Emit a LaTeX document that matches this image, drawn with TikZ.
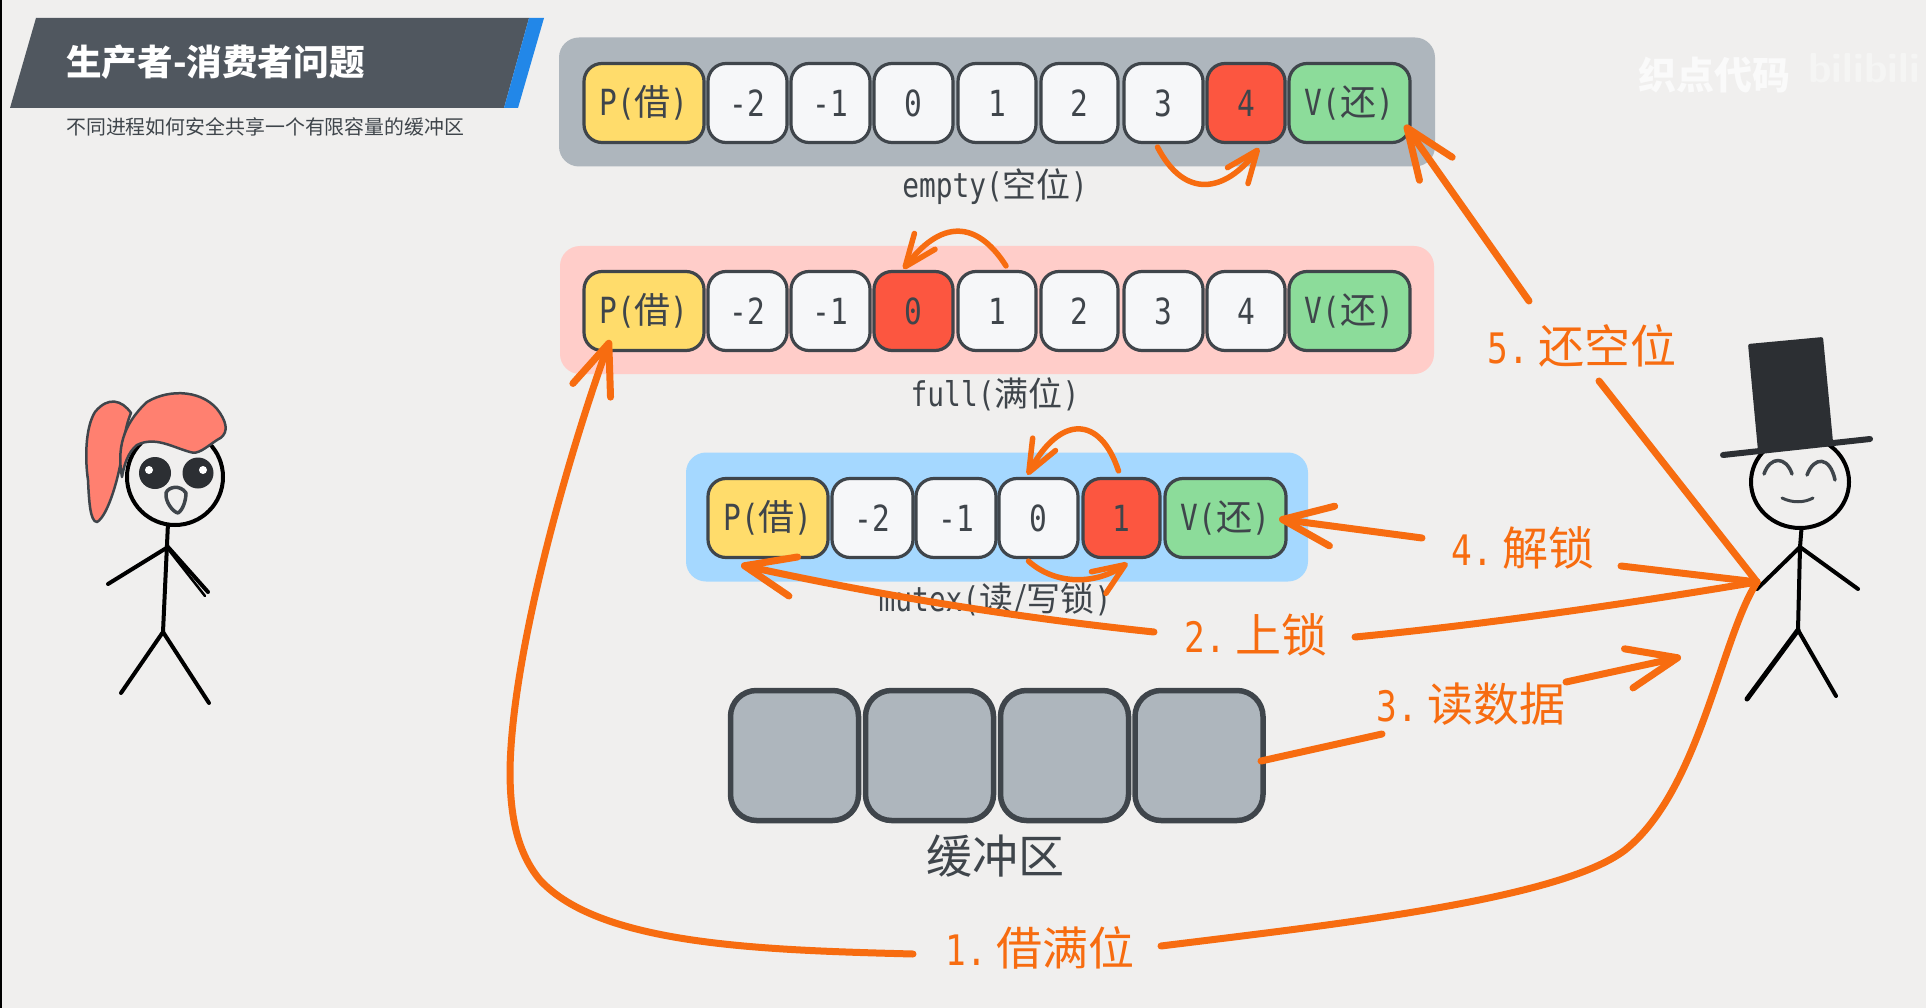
\documentclass[tikz,border=0pt]{standalone}
\usepackage{fontspec}
\usetikzlibrary{arrows.meta,calc}
\newfontfamily\cjkf{Noto Sans CJK SC}
\newfontfamily\handf[FakeStretch=0.82]{DejaVu Sans Mono}
\newcommand{\jie}{P({\cjkf 借})}
\newcommand{\huan}{V({\cjkf 还})}
\newcommand{\stepnum}[2]{#1.\hspace{9pt}{\cjkf\fontsize{46}{46}\selectfont #2}}
\definecolor{paper}{HTML}{F0EFEE}
\definecolor{banner}{HTML}{50575F}
\definecolor{bannerblue}{HTML}{2287E8}
\definecolor{ink}{HTML}{3F454B}
\definecolor{hot}{HTML}{F76C10}
\definecolor{slotwhite}{HTML}{F6F7F9}
\definecolor{slotred}{HTML}{FC5640}
\definecolor{slotyellow}{HTML}{FFDC6B}
\definecolor{slotgreen}{HTML}{8CDC9A}
\definecolor{rowgray}{HTML}{AEB6BD}
\definecolor{rowpink}{HTML}{FFCDC9}
\definecolor{rowblue}{HTML}{A5D8FF}
\definecolor{hair}{HTML}{FF8070}
\definecolor{hatc}{HTML}{2C2F33}
\tikzset{
  slot/.style={draw=ink,line width=3.2pt,rounded corners=18pt,inner sep=0pt,
    minimum height=79pt,font=\handf\fontsize{36}{36}\selectfont,text=ink},
  band/.style={rounded corners=20pt,inner sep=0pt},
  caption/.style={font=\handf\fontsize{34}{34}\selectfont,text=ink,inner sep=0pt},
  steplabel/.style={font=\handf\fontsize{42}{42}\selectfont,text=hot,inner sep=0pt},
  bigflow/.style={draw=hot,line width=7pt,line cap=round,
    -{Straight Barb[length=50pt,width=40pt,line width=7pt,round]}},
  flowtail/.style={draw=hot,line width=7pt,line cap=round},
  smallflow/.style={draw=hot,line width=5.5pt,line cap=round,
    -{Straight Barb[length=32pt,width=26pt,line width=5.5pt,round]}},
  limb/.style={draw=black,line width=4pt,line cap=round,line join=round},
  facepen/.style={draw=ink,line width=3.5pt,line cap=round,line join=round},
  bufslot/.style={draw=ink,fill=rowgray,line width=5.5pt,rounded corners=26pt,
    minimum width=128pt,minimum height=130pt,inner sep=0pt},
}
\begin{document}
\begin{tikzpicture}[x=1pt,y=-1pt]
\useasboundingbox (0,0) rectangle (1926,1008);
\fill[paper] (0,0) rectangle (1926,1008);
\fill[black] (0,0) rectangle (2,1008);

% title banner
\fill[banner] (36,18) -- (529,18) -- (504,108) -- (10,108) -- cycle;
\fill[bannerblue] (529,18) -- (544,18) -- (518,108) -- (504,108) -- cycle;
\node[anchor=west,inner sep=0pt,text=white,font=\cjkf\bfseries\fontsize{35.6}{36}\selectfont] (title) at (66,62) {生产者-消费者问题};
\node[anchor=west,inner sep=0pt,text=ink,font=\cjkf\fontsize{19.9}{20}\selectfont] (subtitle) at (66,127) {不同进程如何安全共享一个有限容量的缓冲区};

% watermark
\node[anchor=west,inner sep=0pt,text=white!70!paper,font=\cjkf\bfseries\fontsize{38}{38}\selectfont] (mark) at (1638,75) {织点代码};
\node[anchor=west,inner sep=0pt,text=white!35!paper,font=\sffamily\bfseries\fontsize{42}{42}\selectfont] (logo) at (1808,68) {bilibili};

% semaphore bands
\node[band,fill=rowgray,minimum width=876pt,minimum height=129pt] (bandE) at (997,102) {};
\node[band,fill=rowpink,minimum width=874pt,minimum height=128pt] (bandF) at (997,310) {};
\node[band,fill=rowblue,minimum width=622pt,minimum height=129pt] (bandM) at (997,517) {};

% empty row
\foreach \nm/\cx/\cw/\col/\txt in {
  P/644/120/slotyellow/\jie, a/747.5/79/slotwhite/-2, b/830.5/79/slotwhite/-1,
  c/913.5/79/slotwhite/0, d/997/78/slotwhite/1, e/1079.5/77/slotwhite/2,
  f/1163.5/79/slotwhite/3, g/1246/78/slotred/4, V/1349.5/121/slotgreen/\huan}
  \node[slot,fill=\col,minimum width=\cw pt] (e\nm) at (\cx,103) {\txt};
\node[caption] (capE) at (995,187) {empty({\cjkf 空位})};

% full row
\foreach \nm/\cx/\cw/\col/\txt in {
  P/644/120/slotyellow/\jie, a/747.5/79/slotwhite/-2, b/830.5/79/slotwhite/-1,
  c/913.5/79/slotred/0, d/997/78/slotwhite/1, e/1079.5/77/slotwhite/2,
  f/1163.5/79/slotwhite/3, g/1246/78/slotwhite/4, V/1349.5/121/slotgreen/\huan}
  \node[slot,fill=\col,minimum width=\cw pt] (f\nm) at (\cx,311) {\txt};
\node[caption] (capF) at (995,394) {full({\cjkf 满位})};

% mutex row
\foreach \nm/\cx/\cw/\col/\txt in {
  P/768/120/slotyellow/\jie, a/872.5/81/slotwhite/-2, b/956/80/slotwhite/-1,
  c/1038.5/79/slotwhite/0, d/1121.5/77/slotred/1, V/1225.5/121/slotgreen/\huan}
  \node[slot,fill=\col,minimum width=\cw pt] (m\nm) at (\cx,518) {\txt};
\node[caption] (capM) at (995,600) {mutex({\cjkf 读/写锁})};

% shared buffer
\foreach \nm/\cx in {a/794.5,b/929.5,c/1064.5,d/1199}
  \node[bufslot] (buf\nm) at (\cx,755.5) {};
\node[inner sep=0pt,text=ink,font=\cjkf\fontsize{46}{46}\selectfont] (capB) at (995,856) {缓冲区};

% producer figure
\draw[limb] (168,523) -- (163,632);
\draw[limb] (168,547) -- (108,584);
\draw[limb] (168,547) -- (208,592);
\draw[limb,line width=2.5pt] (168,549) -- (205,596);
\draw[limb] (163,632) -- (121,693);
\draw[limb] (163,632) -- (209,703);
\draw[limb,fill=paper] (175,477) circle[radius=48pt];
\fill[hatc] (155,473) circle[radius=16pt];
\fill[hatc] (198,473) circle[radius=15.5pt];
\fill[white] (149,470) circle[radius=4pt];
\fill[white] (203,470) circle[radius=4pt];
\draw[facepen,fill=paper] (166,493) .. controls (168,487) and (180,484) .. (186,493)
  .. controls (186,500) and (183,510) .. (178,513) .. controls (173,512) and (165,502) .. (166,493) -- cycle;
\draw[draw=ink,fill=hair,line width=2.5pt,line join=round]
  (131,413) .. controls (122,400) and (108,396) .. (95,412)
  .. controls (85,428) and (85,460) .. (88,480)
  .. controls (89,500) and (90,522) .. (97,522)
  .. controls (108,516) and (120,475) .. (123,447)
  .. controls (125,430) and (128,420) .. (131,413) -- cycle;
\draw[draw=ink,fill=hair,line width=2.5pt,line join=round]
  (122,477) .. controls (117,450) and (122,425) .. (147,402)
  .. controls (170,388) and (205,390) .. (220,413)
  .. controls (228,425) and (228,435) .. (217,440)
  .. controls (205,448) and (198,455) .. (190,452)
  .. controls (172,447) and (155,436) .. (137,445)
  .. controls (128,452) and (124,465) .. (122,477) -- cycle;

% consumer figure
\draw[limb] (1802,522) -- (1800,547) -- (1798,630);
\draw[limb] (1800,547) -- (1757,589);
\draw[limb] (1800,547) -- (1858,589);
\draw[limb,line width=5pt] (1798,630) -- (1747,699);
\draw[limb] (1798,630) -- (1836,696);
\draw[limb,fill=paper] (1800,482) ellipse[x radius=49pt,y radius=46pt];
\fill[hatc,rounded corners=2pt] (1748,344) -- (1823,337) -- (1833,442) -- (1758,451) -- cycle;
\draw[hatc,line width=6pt,line cap=round] (1723,455) -- (1870,439);
\draw[facepen] (1764,474) .. controls (1770,456) and (1786,456) .. (1792,474);
\draw[facepen] (1807,475) .. controls (1814,456) and (1830,456) .. (1835,480);
\draw[facepen,line width=3pt] (1782,498) .. controls (1792,503) and (1804,503) .. (1813,498);

% hop arrows inside the rows
\draw[smallflow] ([xshift=-6pt,yshift=-3pt]ef.south) .. controls (1185,200) and (1225,192) .. ([xshift=13pt,yshift=-4pt]eg.south);
\draw[smallflow] ([xshift=9pt,yshift=4pt]fd.north) .. controls (980,225) and (945,215) .. ([xshift=-10pt,yshift=1pt]fc.north);
\draw[smallflow] ([xshift=-3pt,yshift=6pt]md.north) .. controls (1100,415) and (1060,415) .. ([xshift=-11pt,yshift=2pt]mc.north);
\draw[smallflow] ([xshift=-10pt,yshift=-2pt]mc.south) .. controls (1055,585) and (1095,585) .. ([xshift=6pt,yshift=-4pt]md.south);

% step labels
\node[steplabel] (lblA) at (1040,948) {\stepnum{1}{借满位}};
\node[steplabel] (lblB) at (1256,635) {\stepnum{2}{上锁}};
\node[steplabel] (lblC) at (1471,704) {\stepnum{3}{读数据}};
\node[steplabel] (lblD) at (1523,548) {\stepnum{4}{解锁}};
\node[steplabel] (lblE) at (1582,346) {\stepnum{5}{还空位}};

% free ends of the step connectors
\coordinate (hand) at (1757,582);
\coordinate (aL) at (913,954);
\coordinate (aR) at (1161,946);
\coordinate (aTip) at (610,340);
\coordinate (bL) at (1154,632);
\coordinate (bR) at (1355,637);
\coordinate (bTip) at (741,565);
\coordinate (cL) at (1382,734);
\coordinate (cR) at (1566,682);
\coordinate (cSrc) at (1261,761);
\coordinate (cTip) at (1681,657);
\coordinate (dL) at (1422,538);
\coordinate (dR) at (1621,566);
\coordinate (dTip) at (1279,519);
\coordinate (eUp) at (1529,301);
\coordinate (eLow) at (1599,381);
\coordinate (eTip) at (1405,125);

% step 1: borrow a full slot
\draw[flowtail] (hand) .. controls (1720,640) and (1700,790) .. (1625,850)
  .. controls (1560,900) and (1330,925) .. (aR);
\draw[bigflow] (aL) .. controls (760,950) and (600,945) .. (540,880)
  .. controls (515,850) and (510,810) .. (510,770)
  .. controls (512,650) and (570,450) .. (aTip);
% step 2: take the lock
\draw[flowtail] (hand) .. controls (1620,605) and (1480,625) .. (bR);
\draw[bigflow] (bL) .. controls (1040,620) and (900,600) .. (bTip);
% step 3: read the data
\draw[flowtail] (cSrc) -- (cL);
\draw[bigflow] (cR) -- (cTip);
% step 4: release the lock
\draw[flowtail] (hand) -- (dR);
\draw[bigflow] (dL) -- (dTip);
% step 5: return an empty slot
\draw[flowtail] (hand) -- (eLow);
\draw[bigflow] (eUp) -- (eTip);
\end{tikzpicture}
\end{document}
